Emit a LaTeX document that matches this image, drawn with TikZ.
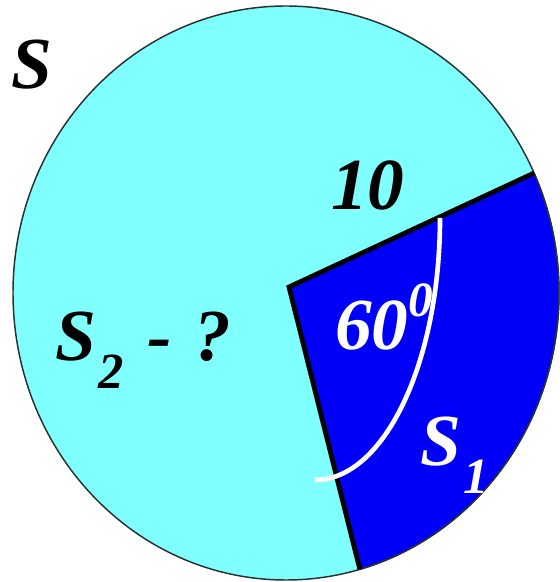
\documentclass[tikz,border=0pt]{standalone}
\usepackage{fontspec}
\setmainfont{Liberation Serif}
\definecolor{lightcyan}{RGB}{128,255,255}
\definecolor{sectorblue}{RGB}{0,0,250}
\definecolor{rimgray}{RGB}{40,50,50}
\newcommand{\lowsub}[1]{\raisebox{-21pt}{\fontsize{38}{40}\selectfont #1}}
\newcommand{\highsup}[1]{\raisebox{25pt}{\fontsize{37}{40}\selectfont #1}}
\tikzset{
  lbl/.style={font=\fontsize{55}{60}\selectfont\bfseries\itshape, inner sep=0pt, anchor=base west},
  rim/.style={draw=rimgray, line width=1.1pt},
  radius line/.style={draw=black, line width=3.6pt, line join=miter},
  anglearc/.style={draw=white, line width=3.5pt}
}
\begin{document}
\begin{tikzpicture}[x=0.75pt,y=0.75pt]
\useasboundingbox (0,0) rectangle (560,582);
\coordinate (c) at (286,289);
\coordinate (v) at (289,295);
\path (c) ++(24.7:273 and 287) coordinate (p1);
\path (c) ++(-74.3:273 and 287) coordinate (p2);
% whole disc
\path[fill=lightcyan, rim] (c) ellipse [x radius=273, y radius=287];
% sector S1
\path[fill=sectorblue] (v) -- (p1) arc[start angle=24.7, end angle=-74.3, x radius=273, y radius=287] -- cycle;
\draw[rim] (p1) arc[start angle=24.7, end angle=-74.3, x radius=273, y radius=287];
\draw[radius line] (p1) -- (v) -- (p2);
% labels
\node[lbl] (s) at (11,493) {S};
\node[lbl] (ten) at (331,372) {10};
\node[lbl, text=white] (sixty) at (335,232) {60\highsup{0}};
\node[lbl] (s2) at (55,221) {S\kern2pt\lowsub{2}\kern4pt{} -\kern3pt{} ?};
\node[lbl, text=white] (s1) at (420,116) {S\kern2pt\lowsub{1}};
% angle arc
\coordinate (ac) at (315,364);
\coordinate (a0) at (440,364);
\draw[anglearc] (a0) arc[start angle=0, end angle=-90, x radius=125, y radius=262];
\end{tikzpicture}
\end{document}
